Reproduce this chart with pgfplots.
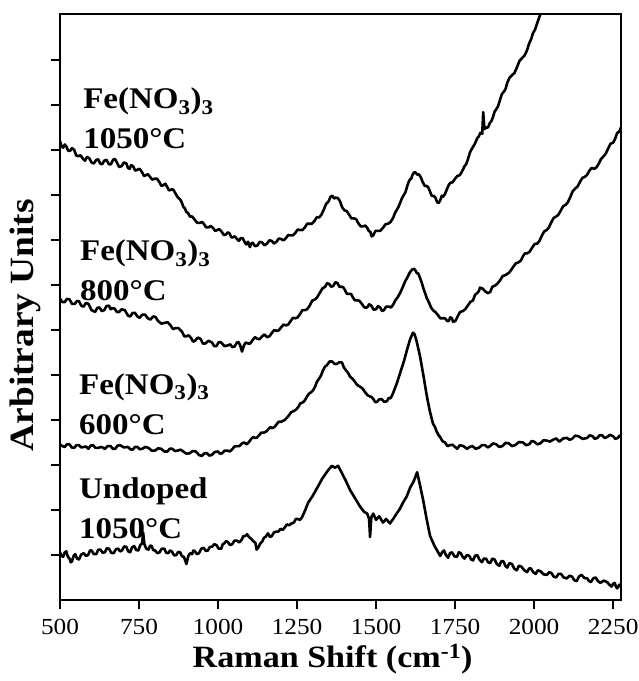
\documentclass[border=0pt]{standalone}
\usepackage{pgfplots}
\pgfplotsset{compat=1.18}
\usepackage{fontspec}
\setmainfont[FakeStretch=1.1]{Liberation Serif}

\pgfplotstableread{
x y
500 10.20
505 10.08
510 10.05
515 10.12
520 10.08
526 9.98
532 9.98
538 10.04
545 10.00
551 9.88
558 9.86
565 9.88
573 9.80
579 9.76
585 9.84
592 9.82
600 9.72
607 9.70
615 9.78
621 9.79
627 9.70
633 9.68
640 9.76
647 9.78
655 9.68
661 9.68
668 9.78
674 9.80
680 9.72
687 9.62
695 9.64
702 9.72
710 9.70
715 9.60
720 9.58
725 9.66
731 9.64
738 9.54
745 9.56
752 9.58
760 9.50
766 9.42
772 9.44
778 9.46
785 9.40
792 9.34
800 9.36
807 9.36
815 9.28
821 9.20
828 9.22
833 9.25
839 9.18
845 9.10
852 9.12
858 9.12
865 9.04
872 8.95
880 8.90
885 8.84
890 8.74
895 8.70
900 8.62
905 8.60
911 8.52
918 8.52
925 8.46
934 8.38
943 8.38
949 8.40
955 8.36
962 8.28
970 8.28
977 8.31
985 8.26
991 8.20
997 8.22
1004 8.24
1012 8.18
1018 8.11
1025 8.12
1031 8.17
1037 8.14
1042 8.06
1047 8.06
1053 8.08
1060 8.02
1066 7.98
1072 8.04
1078 8.04
1085 7.94
1090 7.90
1095 7.96
1101 7.84
1105 7.92
1110 7.94
1117 7.86
1125 7.88
1132 7.96
1140 7.94
1147 7.88
1155 7.92
1162 7.99
1170 7.98
1177 7.92
1185 7.96
1192 8.03
1200 8.02
1207 7.99
1215 8.04
1222 8.11
1230 8.10
1237 8.10
1245 8.16
1252 8.23
1260 8.22
1267 8.22
1275 8.28
1282 8.36
1290 8.36
1297 8.36
1305 8.42
1312 8.50
1320 8.50
1327 8.56
1335 8.68
1342 8.80
1350 8.86
1356 8.96
1362 8.98
1367 8.92
1372 8.94
1379 8.93
1386 8.86
1393 8.72
1400 8.66
1407 8.64
1415 8.56
1422 8.48
1430 8.48
1437 8.46
1445 8.36
1452 8.30
1460 8.30
1466 8.32
1472 8.27
1477 8.20
1482 8.18
1486 8.08
1491 8.10
1498 8.20
1505 8.20
1513 8.20
1522 8.27
1530 8.35
1538 8.36
1546 8.40
1554 8.49
1560 8.60
1565 8.66
1570 8.72
1576 8.82
1582 8.93
1588 9.00
1593 9.06
1598 9.18
1602 9.27
1607 9.34
1611 9.36
1615 9.44
1620 9.50
1625 9.50
1630 9.45
1635 9.46
1641 9.40
1648 9.28
1654 9.20
1660 9.20
1666 9.16
1671 9.07
1676 8.98
1682 8.98
1688 8.94
1693 8.84
1698 8.82
1703 8.88
1708 8.98
1712 8.96
1718 9.02
1725 9.14
1730 9.22
1735 9.27
1742 9.28
1750 9.36
1757 9.42
1765 9.44
1772 9.52
1780 9.64
1785 9.68
1790 9.78
1798 9.96
1807 10.07
1813 10.14
1820 10.26
1825 10.30
1830 10.38
1836 10.36
1839 10.84
1843 10.46
1847 10.50
1851 10.49
1855 10.51
1860 10.60
1865 10.64
1870 10.73
1875 10.85
1880 10.90
1886 10.97
1892 11.11
1898 11.24
1905 11.30
1910 11.36
1915 11.49
1922 11.60
1930 11.66
1938 11.71
1946 11.84
1954 11.98
1962 12.04
1970 12.10
1978 12.22
1984 12.36
1990 12.45
1997 12.60
2003 12.67
2010 12.82
2019 13.00
2030 13.25
}\tabA

\pgfplotstableread{
x y
500 6.70
507 6.62
515 6.62
522 6.69
530 6.68
538 6.58
547 6.58
553 6.64
560 6.64
567 6.54
575 6.52
582 6.60
590 6.58
600 6.44
611 6.40
618 6.49
625 6.50
632 6.42
640 6.44
647 6.53
655 6.54
660 6.46
665 6.48
672 6.48
680 6.40
687 6.40
695 6.46
705 6.44
715 6.32
722 6.30
730 6.38
737 6.38
745 6.30
752 6.27
760 6.34
769 6.34
778 6.26
786 6.23
795 6.30
802 6.29
810 6.20
821 6.14
832 6.16
841 6.17
850 6.10
857 6.02
865 6.04
875 6.04
886 5.96
893 5.86
900 5.86
907 5.88
915 5.82
921 5.74
927 5.76
936 5.83
945 5.80
952 5.70
960 5.70
970 5.76
981 5.72
988 5.64
995 5.64
1002 5.73
1010 5.72
1021 5.64
1032 5.66
1039 5.68
1045 5.62
1052 5.63
1060 5.72
1065 5.73
1070 5.66
1076 5.52
1082 5.66
1088 5.72
1095 5.70
1102 5.70
1110 5.78
1117 5.84
1125 5.80
1132 5.80
1140 5.86
1147 5.90
1155 5.84
1163 5.86
1171 5.94
1178 6.00
1185 5.98
1192 5.99
1200 6.06
1207 6.12
1215 6.10
1222 6.12
1230 6.20
1237 6.27
1245 6.26
1252 6.28
1260 6.36
1267 6.44
1275 6.44
1282 6.46
1290 6.54
1298 6.65
1307 6.68
1313 6.72
1320 6.80
1330 6.92
1339 6.96
1345 7.04
1352 7.02
1358 6.96
1365 6.98
1371 7.06
1378 7.04
1384 6.96
1390 6.96
1396 6.95
1402 6.88
1408 6.80
1415 6.80
1421 6.80
1427 6.72
1433 6.66
1440 6.66
1447 6.65
1455 6.58
1463 6.50
1472 6.50
1478 6.57
1485 6.54
1492 6.45
1500 6.46
1506 6.53
1513 6.50
1519 6.42
1525 6.44
1532 6.52
1540 6.52
1547 6.50
1554 6.56
1561 6.66
1568 6.72
1576 6.82
1585 6.96
1592 7.08
1600 7.18
1607 7.28
1614 7.34
1620 7.36
1625 7.32
1629 7.26
1633 7.26
1639 7.16
1645 7.04
1650 6.92
1655 6.82
1661 6.70
1668 6.60
1674 6.50
1680 6.44
1687 6.40
1695 6.34
1703 6.26
1712 6.26
1718 6.26
1725 6.20
1730 6.20
1735 6.28
1740 6.26
1744 6.18
1751 6.20
1758 6.30
1766 6.40
1775 6.42
1782 6.46
1790 6.54
1798 6.62
1807 6.66
1813 6.78
1820 6.82
1825 6.86
1829 6.94
1837 6.92
1845 6.86
1853 6.82
1861 6.84
1868 6.96
1875 6.98
1883 7.02
1892 7.10
1901 7.20
1910 7.22
1922 7.28
1934 7.40
1942 7.48
1950 7.50
1958 7.54
1965 7.64
1971 7.70
1978 7.70
1986 7.74
1995 7.84
2002 7.91
2010 7.92
2017 7.98
2025 8.10
2032 8.19
2040 8.22
2047 8.28
2055 8.40
2062 8.49
2070 8.52
2077 8.56
2085 8.66
2092 8.75
2100 8.78
2107 8.84
2115 8.96
2122 9.08
2130 9.14
2138 9.19
2146 9.30
2153 9.38
2160 9.40
2167 9.44
2175 9.54
2182 9.60
2190 9.58
2197 9.61
2205 9.70
2212 9.80
2220 9.86
2227 9.92
2235 10.04
2242 10.14
2250 10.16
2256 10.24
2263 10.38
2269 10.40
2275 10.50
}\tabB

\pgfplotstableread{
x y
500 3.46
507 3.42
515 3.40
522 3.46
530 3.46
537 3.39
545 3.38
552 3.44
560 3.44
567 3.39
575 3.40
582 3.41
590 3.36
597 3.43
605 3.44
612 3.38
620 3.38
631 3.40
642 3.36
651 3.42
660 3.42
667 3.36
675 3.36
682 3.43
690 3.44
702 3.39
715 3.40
722 3.35
730 3.34
737 3.40
745 3.40
752 3.35
760 3.36
770 3.40
780 3.38
790 3.32
801 3.32
810 3.37
820 3.36
830 3.30
840 3.30
847 3.36
855 3.36
864 3.31
873 3.32
881 3.34
890 3.30
900 3.25
910 3.26
920 3.31
930 3.30
940 3.22
949 3.20
957 3.26
965 3.26
972 3.21
980 3.22
990 3.29
1000 3.30
1006 3.25
1013 3.26
1021 3.32
1030 3.32
1037 3.30
1044 3.34
1052 3.41
1060 3.42
1068 3.42
1076 3.48
1083 3.50
1090 3.46
1097 3.50
1105 3.58
1111 3.62
1117 3.60
1123 3.61
1130 3.66
1137 3.72
1145 3.72
1152 3.74
1160 3.80
1165 3.84
1171 3.82
1178 3.84
1185 3.90
1192 3.96
1200 3.96
1211 4.00
1222 4.08
1231 4.17
1240 4.20
1247 4.23
1255 4.30
1260 4.37
1266 4.38
1273 4.42
1280 4.50
1287 4.58
1295 4.62
1301 4.66
1307 4.74
1313 4.85
1320 4.92
1326 4.99
1332 5.10
1338 5.18
1345 5.22
1353 5.30
1361 5.30
1368 5.25
1375 5.24
1383 5.28
1392 5.28
1398 5.17
1405 5.10
1411 5.05
1418 4.96
1425 4.92
1432 4.86
1440 4.78
1449 4.74
1457 4.70
1465 4.62
1473 4.55
1481 4.52
1486 4.51
1492 4.46
1497 4.40
1503 4.40
1510 4.46
1518 4.46
1526 4.40
1535 4.42
1540 4.49
1545 4.48
1549 4.52
1554 4.60
1565 4.80
1576 5.04
1588 5.30
1598 5.56
1608 5.80
1617 5.94
1622 5.90
1628 5.76
1639 5.42
1650 4.98
1661 4.52
1670 4.20
1680 3.92
1686 3.85
1692 3.74
1698 3.66
1703 3.62
1710 3.53
1718 3.50
1726 3.42
1734 3.44
1742 3.45
1750 3.40
1757 3.36
1765 3.44
1776 3.42
1788 3.36
1796 3.40
1805 3.42
1815 3.36
1825 3.38
1835 3.44
1845 3.44
1853 3.39
1861 3.42
1870 3.48
1880 3.46
1890 3.40
1900 3.42
1910 3.49
1920 3.48
1930 3.42
1940 3.44
1952 3.51
1965 3.50
1975 3.44
1985 3.46
1992 3.53
2000 3.52
2010 3.46
2020 3.48
2030 3.55
2041 3.54
2050 3.52
2060 3.56
2070 3.59
2080 3.52
2092 3.59
2104 3.60
2112 3.56
2120 3.58
2130 3.65
2140 3.64
2154 3.58
2168 3.60
2176 3.66
2185 3.64
2192 3.58
2200 3.60
2207 3.66
2215 3.66
2223 3.60
2231 3.62
2240 3.67
2250 3.64
2257 3.58
2265 3.60
2270 3.65
2275 3.62
}\tabC

\pgfplotstableread{
x y
500 1.06
505 0.98
510 0.96
515 1.06
520 1.08
525 0.96
530 0.92
534 0.84
538 0.86
543 0.98
548 1.02
554 0.92
560 0.90
567 1.01
575 1.04
582 0.98
589 1.00
595 1.10
600 1.10
607 1.02
615 1.02
621 1.12
628 1.12
635 1.05
642 1.06
648 1.15
655 1.14
662 1.05
670 1.04
677 1.13
684 1.14
690 1.08
696 1.10
703 1.19
710 1.18
716 1.08
722 1.06
728 1.17
735 1.20
741 1.11
748 1.10
754 1.22
760 1.26
763 1.50
767 1.24
773 1.14
780 1.12
785 1.21
790 1.20
795 1.11
801 1.10
808 1.04
815 1.06
822 1.14
830 1.14
836 1.05
843 1.04
848 1.10
854 1.08
861 0.99
868 1.00
874 1.07
880 1.06
886 0.97
892 0.96
900 0.80
906 0.98
912 1.04
918 1.02
922 1.10
927 1.08
933 1.02
940 1.04
947 1.14
955 1.16
961 1.09
968 1.10
974 1.18
981 1.18
988 1.24
995 1.22
1002 1.14
1010 1.14
1015 1.24
1020 1.26
1026 1.31
1032 1.28
1038 1.22
1045 1.24
1052 1.32
1060 1.32
1067 1.28
1075 1.34
1080 1.42
1085 1.42
1092 1.46
1098 1.40
1105 1.36
1112 1.30
1118 1.28
1122 1.12
1127 1.16
1134 1.26
1140 1.30
1145 1.38
1150 1.40
1158 1.48
1164 1.40
1170 1.42
1177 1.50
1185 1.52
1191 1.52
1198 1.58
1205 1.56
1212 1.62
1218 1.68
1225 1.66
1232 1.70
1240 1.72
1246 1.80
1252 1.80
1259 1.78
1266 1.84
1276 2.00
1285 2.16
1300 2.32
1316 2.52
1330 2.70
1348 2.88
1360 2.98
1370 2.94
1380 2.98
1392 2.82
1405 2.64
1418 2.44
1432 2.28
1449 2.08
1462 1.96
1472 1.92
1478 1.80
1481 1.40
1485 1.84
1491 1.92
1500 1.78
1510 1.86
1522 1.72
1532 1.80
1544 1.70
1554 1.80
1565 1.92
1575 2.02
1585 2.16
1597 2.30
1608 2.50
1618 2.62
1630 2.84
1640 2.52
1649 2.22
1660 1.80
1671 1.42
1685 1.20
1703 0.98
1709 1.06
1715 1.10
1721 1.00
1728 0.94
1734 1.04
1740 1.06
1748 0.97
1756 0.96
1762 1.06
1768 1.04
1774 0.96
1780 0.92
1787 1.00
1795 0.98
1801 0.90
1807 0.88
1813 0.98
1820 1.00
1827 0.90
1835 0.84
1841 0.92
1848 0.92
1854 0.84
1861 0.82
1868 0.92
1875 0.90
1882 0.80
1890 0.76
1896 0.86
1903 0.86
1909 0.76
1915 0.72
1922 0.82
1930 0.80
1937 0.70
1945 0.66
1952 0.76
1960 0.74
1969 0.66
1978 0.62
1984 0.70
1990 0.70
1997 0.62
2005 0.58
2012 0.66
2020 0.64
2030 0.57
2041 0.56
2048 0.62
2055 0.60
2062 0.52
2070 0.50
2077 0.58
2085 0.58
2094 0.50
2104 0.48
2112 0.54
2120 0.52
2127 0.44
2135 0.42
2142 0.52
2150 0.56
2159 0.49
2168 0.48
2174 0.42
2180 0.40
2187 0.48
2195 0.50
2202 0.42
2210 0.38
2220 0.43
2231 0.40
2238 0.34
2245 0.30
2250 0.36
2255 0.38
2259 0.30
2263 0.26
2270 0.34
2275 0.30
}\tabD

\begin{document}
\begin{tikzpicture}
\begin{axis}[
  scale only axis,
  width=561pt, height=586pt,
  xmin=500, xmax=2275,
  ymin=0, ymax=13.02,
  axis line style={line width=2pt},
  xtick={500,750,1000,1250,1500,1750,2000,2250},
  ytick={1,2,3,4,5,6,7,8,9,10,11,12},
  yticklabels={},
  xtick pos=bottom, ytick pos=left,
  tick align=outside,
  major tick length=9pt,
  tick style={line width=1.8pt, black},
  /pgf/number format/assume math mode=true,
  /pgf/number format/set thousands separator={},
  xticklabel style={font=\fontsize{23}{26}\selectfont, yshift=-7pt},
  xlabel={\fontsize{31}{34}\selectfont\bfseries Raman Shift (cm\textsuperscript{-1})},
  ylabel={\fontsize{34}{36}\selectfont\bfseries Arbitrary Units},
  every axis x label/.style={at={(axis description cs:0.486,-0.116)}, anchor=base},
  every axis y label/.style={at={(axis description cs:-0.0624,0.469)}, rotate=90, anchor=center},
  clip=true,
]
\addplot[black, line width=2.6pt, line join=round] table[x=x,y=y] {\tabA};
\addplot[black, line width=2.6pt, line join=round] table[x=x,y=y] {\tabB};
\addplot[black, line width=2.6pt, line join=round] table[x=x,y=y] {\tabC};
\addplot[black, line width=2.6pt, line join=round] table[x=x,y=y] {\tabD};
\node[anchor=north west, inner sep=0pt, align=left, font=\fontsize{30}{40}\selectfont\bfseries] at (axis cs:573,11.38) {Fe(NO\textsubscript{3})\textsubscript{3}\\1050°C};
\node[anchor=north west, inner sep=0pt, align=left, font=\fontsize{30}{40}\selectfont\bfseries] at (axis cs:563,8.0) {Fe(NO\textsubscript{3})\textsubscript{3}\\800°C};
\node[anchor=north west, inner sep=0pt, align=left, font=\fontsize{30}{40}\selectfont\bfseries] at (axis cs:560,5.04) {Fe(NO\textsubscript{3})\textsubscript{3}\\600°C};
\node[anchor=north west, inner sep=0pt, align=left, font=\fontsize{30}{40}\selectfont\bfseries] at (axis cs:560,2.73) {Undoped\\1050°C};
\end{axis}
\pgfresetboundingbox
\path ([shift={(-60pt,-81pt)}]current axis.south west) rectangle ([shift={(18pt,14pt)}]current axis.north east);
\end{tikzpicture}
\end{document}
